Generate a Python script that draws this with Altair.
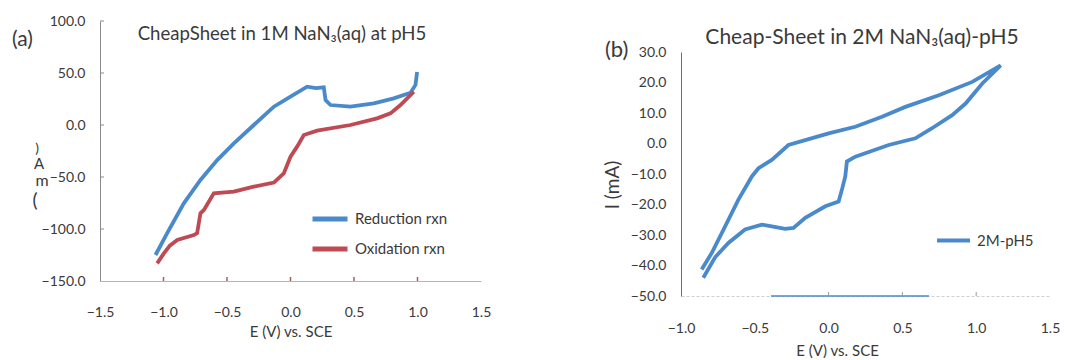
import altair as alt
import pandas as pd

# ---------------- Panel (a): CheapSheet in 1M NaN3 ----------------
red_E = [-1.063, -0.971, -0.84, -0.709, -0.577, -0.446, -0.289, -0.131, 0.0, 0.131, 0.20,
         0.262, 0.276, 0.315, 0.472, 0.656, 0.813, 0.945, 0.984, 0.997]
red_I = [-125, -104, -75.3, -52.9, -33.7, -17.6, 0.0, 17.6, 27.2, 36.8, 35.5,
         36.2, 24.0, 19.2, 17.6, 20.8, 25.6, 31.0, 38.5, 51.0]

ox_E = [-1.05, -0.997, -0.95, -0.892, -0.761, -0.735, -0.709, -0.682, -0.604, -0.446, -0.289,
        -0.131, -0.053, 0.0, 0.052, 0.105, 0.21, 0.472, 0.682, 0.787, 0.866, 0.971]
ox_I = [-133, -123.4, -116, -110.6, -105.8, -104, -84.9, -81.7, -65.7, -64.1, -59.3,
        -55.4, -46.5, -30.5, -20.8, -9.6, -5.4, 0.0, 6.4, 11.2, 19.2, 32.0]

a_series = ["Reduction rxn", "Oxidation rxn"]
a_x_ticks = [-1.5, -1.0, -0.5, 0.0, 0.5, 1.0, 1.5]
a_y_ticks = [-150, -100, -50, 0, 50, 100]
a_inner_x = [-1.0, -0.5, 0.0, 0.5, 1.0]
a_inner_y = [100, 50, 0, -50, -100]

# ---------------- Panel (b): Cheap-Sheet in 2M NaN3 ----------------
b_E = [-0.86, -0.792, -0.701, -0.611, -0.52, -0.475, -0.385, -0.272, -0.158, 0.0, 0.181,
       0.362, 0.52, 0.747, 0.973, 1.166, 1.04, 0.928, 0.837, 0.701, 0.588, 0.407, 0.181,
       0.124, 0.113, 0.09, 0.068, -0.022, -0.158, -0.238, -0.294, -0.385, -0.453, -0.566,
       -0.679, -0.769, -0.849]
b_I = [-41.3, -35.9, -27.2, -18.4, -10.8, -8.1, -5.4, -0.5, 1.1, 3.3, 5.5,
       8.8, 12.0, 15.8, 20.2, 25.6, 19.6, 13.1, 9.3, 5.0, 1.7, -0.5, -4.3,
       -5.9, -10.8, -15.2, -19.0, -20.6, -24.4, -27.7, -28.0, -27.2, -26.6, -28.2,
       -32.6, -37.3, -44.0]
b_series = ["2M-pH5"]
b_x_ticks = [-1.0, -0.5, 0.0, 0.5, 1.0, 1.5]
b_y_ticks = [-50, -40, -30, -20, -10, 0, 10, 20, 30]
b_inner_x = [0.0, 0.5, 1.0]
b_seg_E = [-0.39]
b_seg_E2 = [0.68]
b_seg_I = [-50]

FONT = "Lato"
BLUE = "#4A8ACB"
RED = "#BF4A53"
TXT = "#3a3a3a"

# ---------- panel (a) ----------
dfa = pd.DataFrame({
    "E": red_E + ox_E,
    "I": red_I + ox_I,
    "series": [a_series[0]] * len(red_E) + [a_series[1]] * len(ox_E),
    "i": list(range(len(red_E))) + list(range(len(ox_E))),
})

AH = 273
xa = alt.X("E:Q", scale=alt.Scale(domain=[-1.5, 1.5], nice=False, zero=False),
           axis=alt.Axis(values=a_x_ticks, format=".1f", title="E (V) vs. SCE", tickSize=0,
                         labelPadding=24, labelFlush=False, labelOverlap=False,
                         domainColor="#b4b4b4", labelFont=FONT, labelFontSize=14,
                         labelColor=TXT, titleFont=FONT, titleFontSize=15, titleFontWeight="normal",
                         titleColor=TXT, titleY=50, titleBaseline="middle"))
ya = alt.Y("I:Q", scale=alt.Scale(domain=[-150, 100], range=[AH, 13], nice=False, zero=False),
           axis=alt.Axis(values=a_y_ticks, format=".1f", title=None, tickSize=0, labelPadding=15,
                         labelOverlap=False, labelFlush=False,
                         domainColor="#8a8a8a", labelFont=FONT, labelFontSize=14, labelColor=TXT))

lines_a = alt.Chart(dfa).mark_line(strokeWidth=3.8).encode(
    x=xa, y=ya, order="i:Q",
    color=alt.Color("series:N", scale=alt.Scale(domain=a_series, range=[BLUE, RED]),
                    legend=alt.Legend(title=None, orient="none", legendX=210, legendY=191,
                                      symbolType="stroke", symbolSize=1225, symbolStrokeWidth=5,
                                      labelFont=FONT, labelFontSize=15, labelColor=TXT,
                                      labelOffset=5, rowPadding=0, padding=0)),
)

ticks_ax = alt.Chart(pd.DataFrame({"E": a_inner_x})).mark_rule(color="#a06060", strokeWidth=1.5).encode(
    x=xa, y=alt.value(AH), y2=alt.value(AH - 4))
ticks_ay = alt.Chart(pd.DataFrame({"I": a_inner_y})).mark_rule(color="#8a8a8a", strokeWidth=1).encode(
    y=ya, x=alt.value(0), x2=alt.value(4))

ann_a = pd.DataFrame({
    "txt": ["(a)", "CheapSheet in 1M NaN\u2083(aq) at pH5", ")", "A", "m", "("],
    "px": [-88, 182, -63, -61, -58, -65],
    "py": [32, 26, 141, 156, 173, 193],
    "sz": [21, 18.6, 14, 15, 16, 19],
    "al": ["left", "center", "center", "center", "center", "center"],
})
texts_a = []
for _, r in ann_a.iterrows():
    texts_a.append(
        alt.Chart(pd.DataFrame({"t": [r.txt]})).mark_text(
            font=FONT, fontSize=float(r.sz), color=TXT, align=r.al, baseline="middle"
        ).encode(text="t:N", x=alt.value(int(r.px)), y=alt.value(int(r.py)))
    )

left = alt.layer(lines_a, ticks_ax, ticks_ay, *texts_a).properties(width=381, height=AH)

# ---------- panel (b) ----------
dfb = pd.DataFrame({"E": b_E, "I": b_I, "series": b_series * len(b_E), "i": list(range(len(b_E)))})
BH = 288
xb = alt.X("E:Q", scale=alt.Scale(domain=[-1.0, 1.5], nice=False, zero=False),
           axis=alt.Axis(values=b_x_ticks, format=".1f", title="E (V) vs. SCE", tickSize=0,
                         labelPadding=25, labelFlush=False, labelOverlap=False,
                         domainColor="#cfcfcf", domainDash=[3, 2],
                         labelFont=FONT, labelFontSize=14, labelColor=TXT, titleFont=FONT,
                         titleFontSize=15, titleFontWeight="normal", titleColor=TXT,
                         titleX=156, titleY=54, titleBaseline="middle"))
yb = alt.Y("I:Q", scale=alt.Scale(domain=[-50, 30], range=[BH, 44], nice=False, zero=False),
           axis=alt.Axis(values=b_y_ticks, format=".1f", title=None, tickSize=0, labelPadding=15,
                         labelOverlap=False, labelFlush=False, labelSeparation=0,
                         domainColor="#707070", labelFont=FONT, labelFontSize=14, labelColor=TXT))

line_b = alt.Chart(dfb).mark_line(strokeWidth=3.8).encode(
    x=xb, y=yb, order="i:Q",
    color=alt.Color("series:N", scale=alt.Scale(domain=b_series, range=[BLUE]),
                    legend=alt.Legend(title=None, orient="none", legendX=254, legendY=214,
                                      symbolType="stroke", symbolSize=1089, symbolStrokeWidth=4,
                                      labelFont=FONT, labelFontSize=15, labelColor=TXT,
                                      labelOffset=5, padding=0)),
)
seg_b = alt.Chart(pd.DataFrame({"E": b_seg_E, "E2": b_seg_E2, "I": b_seg_I})).mark_rule(
    color=BLUE, strokeWidth=1.5).encode(x=xb, x2="E2:Q", y=yb)
ticks_bx = alt.Chart(pd.DataFrame({"E": b_inner_x})).mark_rule(color="#9a9a9a", strokeWidth=1).encode(
    x=xb, y=alt.value(BH), y2=alt.value(BH - 4))

ann_b = pd.DataFrame({
    "txt": ["Cheap-Sheet in 2M NaN\u2083(aq)-pH5", "(b)"],
    "px": [181, -76],
    "py": [30, 42],
    "sz": [21, 22],
    "al": ["center", "left"],
})
texts_b = []
for _, r in ann_b.iterrows():
    texts_b.append(
        alt.Chart(pd.DataFrame({"t": [r.txt]})).mark_text(
            font=FONT, fontSize=float(r.sz), color=TXT, align=r.al, baseline="middle"
        ).encode(text="t:N", x=alt.value(int(r.px)), y=alt.value(int(r.py)))
    )
ytitle_b = alt.Chart(pd.DataFrame({"t": ["I (mA)"]})).mark_text(
    font=FONT, fontSize=19, color=TXT, angle=270, align="center", baseline="middle"
).encode(text="t:N", x=alt.value(-68), y=alt.value(177))

right = alt.layer(line_b, seg_b, ticks_bx, *texts_b, ytitle_b).properties(width=369, height=BH)

chart = alt.hconcat(left, right, spacing=200, bounds="flush").resolve_scale(
    color="independent"
).properties(
    padding={"left": 4, "top": 0, "right": 0, "bottom": 0},
    background="white",
).configure_view(stroke=None).configure_axis(grid=False, labelOverlap=False
).configure_axisY(labelOverlap=False)

chart.save("out.html", embed_options={"renderer": "svg", "actions": False})
